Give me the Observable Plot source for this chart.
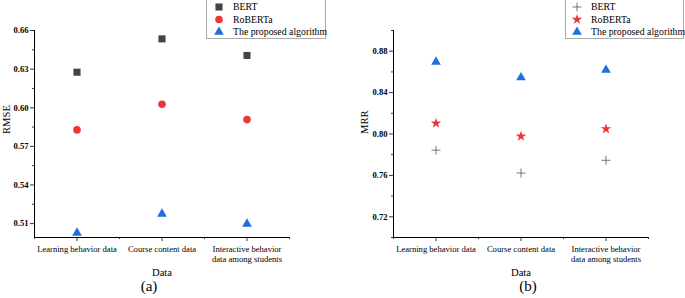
<!DOCTYPE html>
<html><head><meta charset="utf-8">
<script src="https://cdn.jsdelivr.net/npm/d3@7"></script>
<script src="https://cdn.jsdelivr.net/npm/@observablehq/plot@0.6"></script>
<style>
body{margin:0;background:#fff;}
#wrap{position:relative;width:685px;height:298px;overflow:hidden;font-family:"Liberation Serif","DejaVu Serif",serif;background:#fff;}
#wrap > .pnl, #wrap > svg.leg {position:absolute;top:0;}
#wrap svg text {font-family:"Liberation Serif","DejaVu Serif",serif;}
</style></head><body><div id="wrap"></div>
<script>
const categories = ["Learning behavior data", "Course content data", "Interactive behavior\ndata among students"];
const seriesNames = ["BERT", "RoBERTa", "The proposed algorithm"];
const rmseBert = [0.6276, 0.6535, 0.6406];
const rmseRoberta = [0.5828, 0.6027, 0.5908];
const rmseProposed = [0.5028, 0.5175, 0.5098];
const mrrBert = [0.7844, 0.7623, 0.7746];
const mrrRoberta = [0.8104, 0.7978, 0.8049];
const mrrProposed = [0.8696, 0.8546, 0.8618];
const rmseTicks = [0.51, 0.54, 0.57, 0.60, 0.63, 0.66];
const rmseMinor = [0.525, 0.555, 0.585, 0.615, 0.645];
const mrrTicks = [0.72, 0.76, 0.80, 0.84, 0.88];
const mrrMinor = [0.70, 0.74, 0.78, 0.82, 0.86, 0.90];

const FONT = '"Liberation Serif", "DejaVu Serif", serif';
const wrap = document.getElementById("wrap");

function rows(values) { return values.map((v, i) => ({cat: i, value: v})); }

function panel(o) {
  const marks = [
    Plot.ruleX([-0.5], {stroke: "#000", strokeWidth: 1}),
    Plot.ruleY([o.domain[0]], {stroke: "#000", strokeWidth: 1}),
    Plot.axisY({ticks: o.minor, tickSize: 2, text: null, label: null, strokeWidth: 0.8}),
    Plot.axisY({ticks: o.major, tickSize: 4, tickFormat: d3.format(".2f"), fontWeight: "bold", fontSize: 8.6,
      label: null, strokeWidth: 0.8, tickPadding: 2}),
    Plot.axisX({ticks: [-0.5, 0.5, 1.5, 2.5], tickSize: 2, text: null, label: null, strokeWidth: 0.8}),
    Plot.axisX({ticks: [0, 1, 2], tickSize: 4, tickFormat: i => categories[i], fontSize: 8.6, lineHeight: 1.2,
      label: null, strokeWidth: 0.8, tickPadding: 3}),
    Plot.text([o.label], {frameAnchor: "left", dx: o.labelDx, rotate: -90, fontSize: 10.6, fill: "#000"}),
    Plot.text(["Data"], {frameAnchor: "bottom", dx: 0, dy: 38, fontSize: 10.6, fill: "#000"}),
    ...o.series.map(s => Plot.dot(rows(s.values), {x: "cat", y: "value", symbol: s.symbol, r: s.r,
      fill: s.fill, stroke: s.stroke, strokeWidth: s.strokeWidth})),
    Plot.text([o.panelLabel], {frameAnchor: "bottom", dx: o.panelDx, dy: 53, fontSize: 15, fill: "#000"})
  ];
  const p = Plot.plot({
    width: o.width, height: 298,
    marginLeft: o.marginLeft, marginRight: o.marginRight, marginTop: 30, marginBottom: 61,
    x: {type: "linear", domain: [-0.5, 2.5]},
    y: {domain: o.domain},
    style: {fontFamily: FONT, color: "#000", background: "transparent", fontSize: "11px"},
    marks
  });
  p.classList.add("pnl");
  p.style.left = o.left + "px";
  wrap.appendChild(p);
}

panel({
  left: 0, width: 343, marginLeft: 34, marginRight: 54,
  domain: [0.4992, 0.66], major: rmseTicks, minor: rmseMinor, label: "RMSE", labelDx: -28,
  panelLabel: "(a)", panelDx: -13,
  series: [
    {values: rmseBert, symbol: "square", r: 4, fill: "#444"},
    {values: rmseRoberta, symbol: "circle", r: 3.8, fill: "#ee3535"},
    {values: rmseProposed, symbol: "triangle", r: 3.6, fill: "#1f6fdc"}
  ]
});
panel({
  left: 342, width: 343, marginLeft: 51, marginRight: 37,
  domain: [0.70, 0.90], major: mrrTicks, minor: mrrMinor, label: "MRR", labelDx: -29,
  panelLabel: "(b)", panelDx: 7,
  series: [
    {values: mrrBert, symbol: "plus", r: 3, fill: "none", stroke: "#555", strokeWidth: 0.8},
    {values: mrrRoberta, symbol: "star", r: 3.3, fill: "#ee3535"},
    {values: mrrProposed, symbol: "triangle", r: 3.6, fill: "#1f6fdc"}
  ]
});

// legends
const legSvg = d3.select(wrap).append("svg").attr("class", "leg")
  .attr("width", 685).attr("height", 298).style("left", "0px").style("pointer-events", "none");
function legend(x0, x1, mx, tx, items) {
  legSvg.append("rect").attr("x", x0 + 0.5).attr("y", -1).attr("width", x1 - x0).attr("height", 39.5)
    .attr("fill", "#fff").attr("stroke", "#aaa").attr("stroke-width", 1);
  const ys = [7, 19.5, 32];
  items.forEach((it, i) => {
    const sym = d3.symbol().type(it.type).size(Math.PI * it.r * it.r);
    legSvg.append("path").attr("d", sym()).attr("transform", `translate(${mx},${ys[i]})`)
      .attr("fill", it.fill).attr("stroke", it.stroke || "none").attr("stroke-width", it.sw || 0);
    legSvg.append("text").attr("x", tx).attr("y", ys[i]).attr("dy", "0.35em")
      .attr("font-family", FONT).attr("font-size", 9.8).attr("fill", "#000").text(seriesNames[i]);
  });
}
legend(206, 325, 219, 233, [
  {type: d3.symbolSquare, r: 4, fill: "#444"},
  {type: d3.symbolCircle, r: 3.8, fill: "#ee3535"},
  {type: d3.symbolTriangle, r: 3.6, fill: "#1f6fdc"}
]);
legend(565, 683, 577, 591, [
  {type: d3.symbolPlus, r: 3, fill: "none", stroke: "#555", sw: 0.8},
  {type: d3.symbolStar, r: 3.3, fill: "#ee3535"},
  {type: d3.symbolTriangle, r: 3.6, fill: "#1f6fdc"}
]);
</script></body></html>
